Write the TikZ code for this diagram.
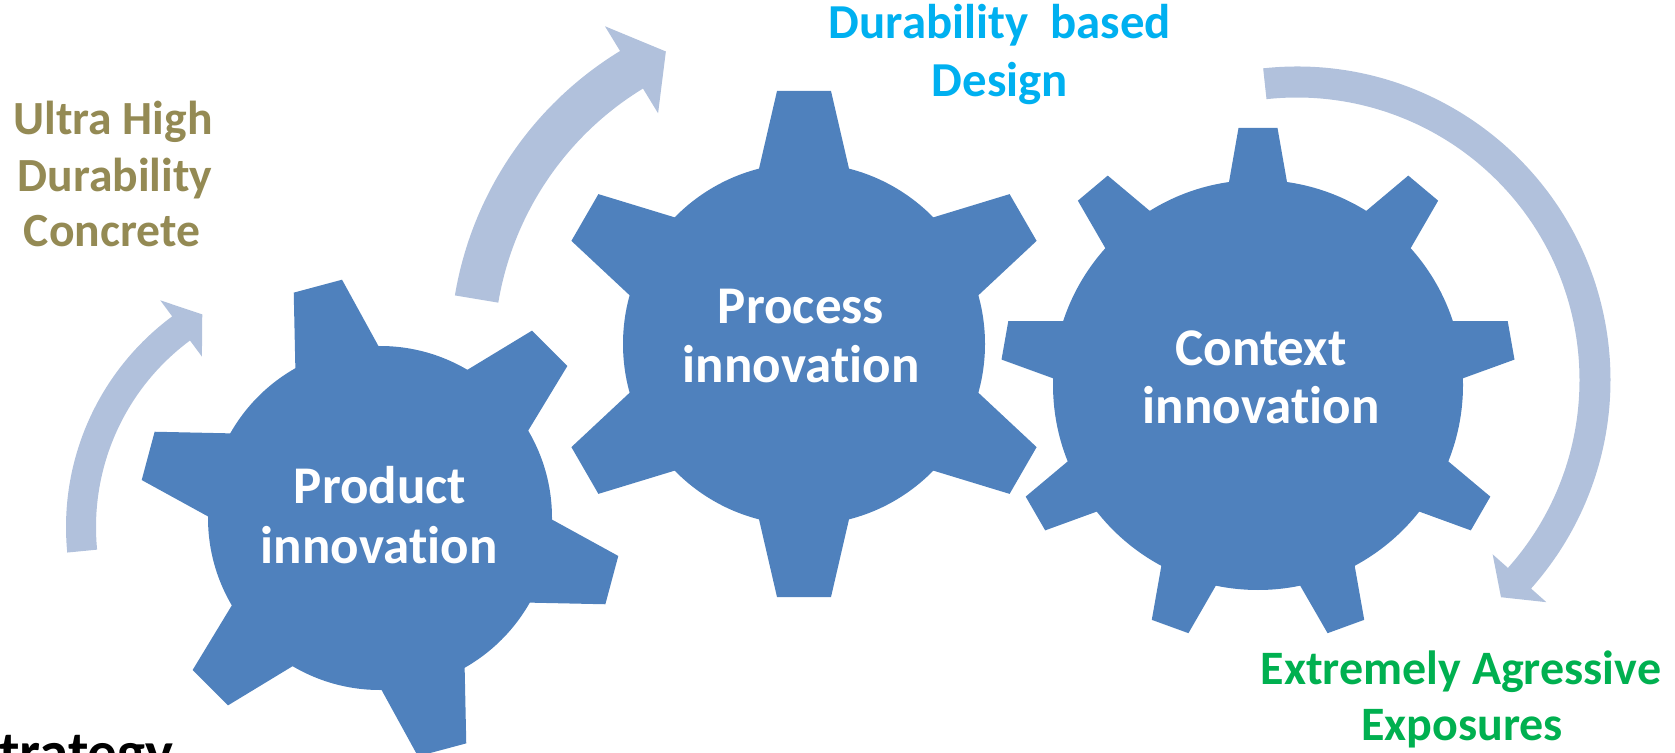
\documentclass[tikz,border=0pt]{standalone}
\usepackage{fontspec}
\setmainfont{Carlito}[RawFeature={-liga}]
\definecolor{gearblue}{RGB}{79,129,189}
\definecolor{arrowblue}{RGB}{177,193,220}
\definecolor{labelolive}{RGB}{148,138,84}
\definecolor{labelsky}{RGB}{0,176,240}
\definecolor{labelgreen}{RGB}{0,176,80}

% gear: centre x, centre y, tip radius, body radius, tip half width, base half width, tooth angles
\newcommand{\gearshape}[7]{%
  \pgfmathsetmacro{\gxb}{#4*sqrt(1-(#6/#4)^2)}%
  \pgfmathsetmacro{\gsl}{(#6-#5)/(#3-\gxb)}%
  \pgfmathsetmacro{\gxi}{\gxb-30}%
  \pgfmathsetmacro{\gwi}{#6+30*\gsl}%
  \fill[gearfill] (#1,#2) circle[radius=#4];
  \foreach \a in {#7}{
    \fill[gearfill, shift={(#1,#2)}, rotate=\a]
      (\gxi,-\gwi) -- (#3,-#5) -- (#3,#5) -- (\gxi,\gwi) -- cycle;
  }}

% clockwise circular arrow: centre x, centre y, mid radius, shaft half width,
% head half width, tail angle, head base angle, tip angle
\newcommand{\circarrow}[8]{%
  \fill[arrowfill, shift={(#1,#2)}]
    ({#6}:{#3+#4}) arc[start angle=#6, end angle=#7, radius=#3+#4]
    -- ({#7}:{#3+#5}) -- ({#8}:{#3}) -- ({#7}:{#3-#5})
    -- ({#7}:{#3-#4}) arc[start angle=#7, end angle=#6, radius=#3-#4]
    -- cycle;}

\begin{document}
\begin{tikzpicture}[x=0.5pt,y=0.5pt,
  gearfill/.style={fill=gearblue},
  arrowfill/.style={fill=arrowblue},
  geartext/.style={text=white, font=\fontsize{26.5}{30}\selectfont\bfseries, anchor=base, inner sep=0pt},
  sidelabel/.style={font=\fontsize{23.8}{28}\selectfont\bfseries, anchor=base, inner sep=0pt},
]
\useasboundingbox (0,0) rectangle (1675,-753);
\clip (0,0) rectangle (1675,-753);

% circular arrows
\circarrow{328}{-527}{247}{15}{35}{185.6}{126.5}{120.6}
\circarrow{805}{-354}{333}{22}{51}{170.5}{121.4}{114.7}
\circarrow{1297}{-380}{298}{15.5}{36}{96.2}{-41.7}{-46.8}

% gears
\gearshape{380}{-518}{240}{172}{25}{43}{105,45,-15,-75,-135,165}
\gearshape{804}{-344}{253}{181}{27}{45}{90,30,-30,-90,-150,150}
\gearshape{1258}{-385}{257}{205}{19.5}{29}{90,50,10,-30,-70,-110,-150,170,130}

% gear captions
\node[geartext] (prod1) at (380,-503) {Product};
\node[geartext] (prod2) at (379,-563) {innovation};
\node[geartext] (proc1) at (801,-324) {Process};
\node[geartext] (proc2) at (801,-383) {innovation};
\node[geartext] (cont1) at (1261,-365) {Context};
\node[geartext] (cont2) at (1261,-423) {innovation};

% outcome labels
\node[sidelabel, text=labelolive] (uhd1) at (113,-135) {Ultra High};
\node[sidelabel, text=labelolive] (uhd2) at (115,-192) {Durability};
\node[sidelabel, text=labelolive] (uhd3) at (112,-247) {Concrete};
\node[sidelabel, text=labelsky, font=\fontsize{24.4}{28}\selectfont\bfseries] (dbd1) at (1000,-39) {Durability\ \ based};
\node[sidelabel, text=labelsky, font=\fontsize{24.4}{28}\selectfont\bfseries] (dbd2) at (1000,-97) {Design};
\node[sidelabel, text=labelgreen, font=\fontsize{24}{28}\selectfont\bfseries] (eae1) at (1461,-684) {Extremely Agressive};
\node[sidelabel, text=labelgreen, font=\fontsize{24}{28}\selectfont\bfseries] (eae2) at (1462,-740) {Exposures};

% heading running off the lower edge
\node[font=\fontsize{29.5}{30}\selectfont\bfseries, anchor=base west, inner sep=0pt] (strat) at (-1,-772) {trategy};
\end{tikzpicture}
\end{document}
